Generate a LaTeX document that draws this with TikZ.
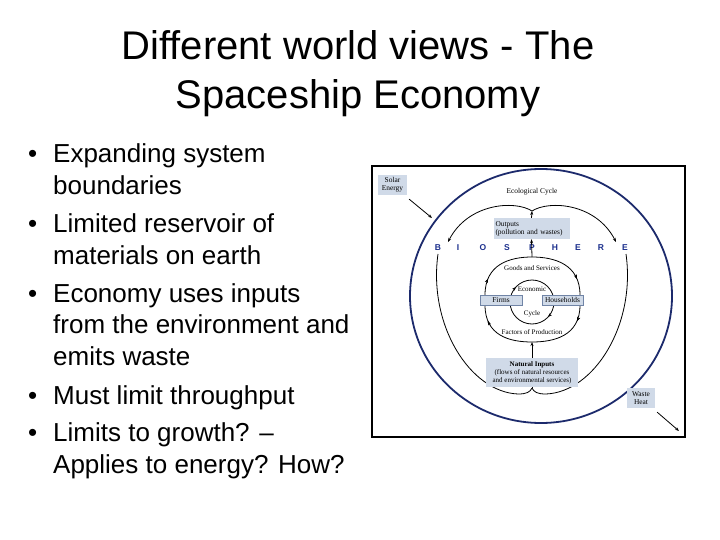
\documentclass[tikz,border=0pt]{standalone}
\usepackage{fontspec}
\setmainfont{Liberation Sans}
\newfontfamily\dserif{Liberation Serif}
\usetikzlibrary{arrows.meta,decorations.markings}
\definecolor{boxfill}{HTML}{D0DAE8}
\definecolor{boxedge}{HTML}{7084A6}
\definecolor{navy}{HTML}{1C2A6C}
\definecolor{bioblue}{HTML}{1A2E8C}
\tikzset{
  ttl/.style={font=\fontsize{40}{48}\selectfont, anchor=base, inner sep=0},
  btext/.style={font=\fontsize{26}{31}\selectfont, anchor=base west, inner sep=0},
  lbl/.style={font=\dserif\fontsize{7.4}{8.2}\selectfont, inner sep=0, align=center},
  slbl/.style={font=\dserif\fontsize{7}{8}\selectfont, inner sep=0, align=center},
  bio/.style={font=\bfseries\fontsize{8.5}{8.5}\selectfont, text=bioblue, anchor=base, inner sep=0},
  fbox/.style={fill=boxfill, draw=none, inner sep=0, font=\dserif\fontsize{7.4}{8.2}\selectfont, align=center},
  ebox/.style={fill=boxfill, draw=boxedge, line width=0.6, inner sep=0, font=\dserif\fontsize{7.4}{8.2}\selectfont},
  arr/.style={-{Stealth[length=4pt,width=3pt]}, line width=0.8},
  lin/.style={line width=0.8},
  midarr/.style={postaction={decorate}, decoration={markings, mark=at position #1 with {\arrow{Stealth[length=4pt,width=3pt]}}}}
}
\begin{document}
\begin{tikzpicture}[x=1pt,y=-1pt]
\useasboundingbox (0,0) rectangle (720,540);
% title
\node[ttl] (t1) at (358,60) {Different world views - The};
\node[ttl] (t2) at (358,109) {Spaceship Economy};
% bullets
\foreach \y/\n in {163/b1,232.6/b2,302.2/b3,404/b4,441.4/b5}{
  \node[btext] (\n) at (28,\y) {•};
}
\node[btext] (l1) at (53,163) {Expanding system};
\node[btext] (l2) at (53,194.5) {boundaries};
\node[btext] (l3) at (53,232.6) {Limited reservoir of};
\node[btext] (l4) at (53,264.1) {materials on earth};
\node[btext] (l5) at (53,302.2) {Economy uses inputs};
\node[btext] (l6) at (53,333.7) {from the environment and};
\node[btext] (l7) at (53,365.2) {emits waste};
\node[btext] (l8) at (53,404) {Must limit throughput};
\node[btext] (l9) at (53,441.4) {Limits to growth? –};
\node[btext] (l10) at (53,473) {Applies to energy? How?};
% frame
\draw[line width=2.6] (372,166) rectangle (685,437);
% outer biosphere circle
\draw[navy, line width=1.8] (541,296) ellipse [x radius=131, y radius=127];
% solar energy
\node[fbox, minimum width=29, minimum height=20] (solar) at (392.5,185) {Solar\\Energy};
\coordinate (solarEnd) at (432,218);
\draw[arr] ([shift={(2,4)}]solar.south east) -- (solarEnd);
% waste heat
\node[fbox, minimum width=28, minimum height=20] (waste) at (641,398) {Waste\\Heat};
\coordinate (wasteEnd) at (679,431);
\draw[arr] ([shift={(2,4)}]waste.south east) -- (wasteEnd);
% ecological cycle
\node[lbl] (eco) at (532,192) {Ecological Cycle};
\coordinate (ctop) at (532,211);
\coordinate (cbot) at (532,388);
\coordinate (tlEnd) at (448,242);
\coordinate (trEnd) at (616,242);
\coordinate (blStart) at (438,254);
\coordinate (brStart) at (626,254);
\draw[arr] (ctop) .. controls (515,200) and (468,203) .. (tlEnd);
\draw[arr] (ctop) .. controls (549,200) and (596,203) .. (trEnd);
\draw[lin, midarr=0.78] (blStart) .. controls (428,325) and (470,392) .. (518,394) .. controls (527,394) and (530,392) .. (cbot);
\draw[lin, midarr=0.78] (brStart) .. controls (636,325) and (594,392) .. (546,394) .. controls (537,394) and (534,392) .. (cbot);
% outputs
\node[fbox, minimum width=76, minimum height=21, align=left, text width=72] (outputs) at (531.5,228.5) {Outputs\\(pollution and wastes)};
\draw[arr] (outputs.north) -- (ctop);
% biosphere letters
\foreach \x/\c/\n in {438/B/s1,458/I/s2,483/O/s3,507/S/s4,532/P/s5,555/H/s6,578/E/s7,601/R/s8,625/E/s9}{
  \node[bio] (\n) at (\x,251) {\c};
}
% natural inputs
\node[fbox, minimum width=92, minimum height=29, font=\dserif\fontsize{7}{8}\selectfont] (natural) at (532,372.5) {\bfseries Natural Inputs\\(flows of natural resources\\and environmental services)};
\draw[lin] (cbot) -- (natural.south);
% economy
\coordinate (gtop) at (532,257);
\coordinate (fbot) at (532,342);
\draw[lin, midarr=0.12, midarr=0.88] (485,295) .. controls (485,264) and (510,257) .. (gtop) .. controls (554,257) and (580,264) .. (580,295);
\draw[lin, midarr=0.12, midarr=0.88] (580,305) .. controls (580,336) and (554,342) .. (fbot) .. controls (510,342) and (485,336) .. (485,305);
\node[slbl] (goods) at (532,268) {Goods and Services};
\node[slbl] (factors) at (532,332) {Factors of Production};
\draw[lin, postaction={decorate}, decoration={markings, mark=at position 0.12 with {\arrow{Stealth[length=4pt,width=3pt]}}, mark=at position 0.62 with {\arrow{Stealth[length=4pt,width=3pt]}}}] (532,302) circle [radius=22];
\node[ebox, minimum width=42, minimum height=10] (firms) at (501,300) {Firms};
\node[ebox, minimum width=41, minimum height=10] (house) at (562.5,300) {Households};
\node[slbl] (econ) at (532,289.5) {Economic};
\node[slbl] (cycle) at (532,314) {Cycle};
\draw[arr] (gtop) -- (outputs.south);
\draw[arr] (natural.north) -- (fbot);
\end{tikzpicture}
\end{document}
